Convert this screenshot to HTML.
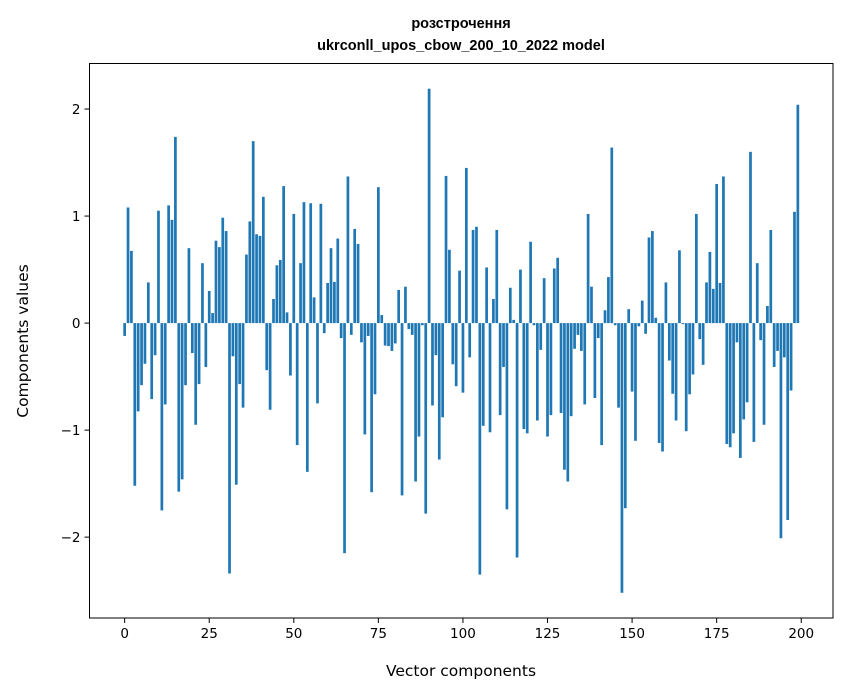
<!DOCTYPE html>
<html><head><meta charset="utf-8"><style>
html,body{margin:0;padding:0;background:#fff;}
svg{display:block;}
</style></head><body>
<svg id="chart" width="847" height="696" viewBox="0 0 847 696" xmlns="http://www.w3.org/2000/svg">
<rect x="0" y="0" width="847" height="696" fill="#fff"/>
<text x="461" y="28" text-anchor="middle" font-family="'Liberation Sans', Arial, sans-serif" font-weight="bold" font-size="14.5">розстрочення</text>
<text x="461" y="50" text-anchor="middle" font-family="'Liberation Sans', Arial, sans-serif" font-weight="bold" font-size="14.5">ukrconll_upos_cbow_200_10_2022 model</text>
<g id="bars"></g>
<g id="xticks"></g>
<g id="yticks"></g>
<rect x="89.5" y="63.5" width="743.5" height="554.5" fill="none" stroke="#000" stroke-width="1"/>
<text x="461" y="676" text-anchor="middle" font-family="'DejaVu Sans', sans-serif" font-size="15.5">Vector components</text>
<text transform="translate(28,341) rotate(-90)" text-anchor="middle" font-family="'DejaVu Sans', sans-serif" font-size="15.5">Components values</text>
</svg>
<script>
const values = [
-0.12,1.08,0.675,-1.52,-0.825,-0.58,-0.38,0.38,-0.71,-0.3,
1.05,-1.75,-0.76,1.1,0.965,1.74,-1.575,-1.46,-0.58,0.70,
-0.28,-0.95,-0.57,0.56,-0.41,0.30,0.094,0.77,0.71,0.985,
0.86,-2.34,-0.31,-1.51,-0.57,-0.79,0.64,0.95,1.70,0.83,
0.815,1.18,-0.44,-0.81,0.225,0.54,0.59,1.28,0.10,-0.49,
1.02,-1.14,0.56,1.13,-1.39,1.12,0.24,-0.75,1.115,-0.094,
0.375,0.70,0.385,0.79,-0.14,-2.15,1.37,-0.11,0.88,0.74,
-0.18,-1.04,-0.12,-1.58,-0.665,1.27,0.075,-0.21,-0.215,-0.26,
-0.19,0.31,-1.61,0.34,-0.056,-0.11,-1.48,-1.06,-0.02,-1.78,
2.19,-0.77,-0.30,-1.275,-0.88,1.375,0.685,-0.385,-0.59,0.49,
-0.65,1.45,-0.32,0.87,0.90,-2.35,-0.96,0.52,-1.02,0.225,
0.87,-0.86,-0.41,-1.74,0.33,0.03,-2.19,0.50,-0.99,-1.03,
0.76,-0.02,-0.91,-0.25,0.42,-1.06,-0.86,0.51,0.61,-0.84,
-1.37,-1.48,-0.87,-0.24,-0.11,-0.26,-0.76,1.02,0.34,-0.70,
-0.14,-1.14,0.12,0.43,1.64,-0.02,-0.79,-2.52,-1.73,0.13,
-0.64,-1.10,-0.03,0.21,-0.10,0.80,0.86,0.05,-1.12,-1.20,
0.38,-0.35,-0.66,-0.91,0.68,-0.01,-1.01,-0.665,-0.48,1.02,
-0.15,-0.39,0.38,0.665,0.32,1.30,0.375,1.37,-1.13,-1.16,
-1.03,-0.18,-1.26,-0.90,-0.74,1.60,-1.11,0.56,-0.16,-0.95,
0.16,0.87,-0.41,-0.26,-2.01,-0.32,-1.84,-0.63,1.04,2.04
];
const xTicks = [0,25,50,75,100,125,150,175,200];
const yTicks = [-2,-1,0,1,2];

const NS = "http://www.w3.org/2000/svg";
const L=89.5, R=833, T=63.5, B=618;
const n = values.length;
const xmin=-0.4-0.05*(n-0.2), xmax=(n-1)+0.4+0.05*(n-0.2);
const vmin=Math.min(0,...values), vmax=Math.max(0,...values);
const ymin=vmin-0.05*(vmax-vmin), ymax=vmax+0.05*(vmax-vmin);
const xs = v => L + (v-xmin)/(xmax-xmin)*(R-L);
const ys = v => B - (v-ymin)/(ymax-ymin)*(B-T);
function mk(tag, attrs){const e=document.createElementNS(NS,tag);for(const k in attrs)e.setAttribute(k,attrs[k]);return e;}

const bars=document.getElementById('bars');
values.forEach((v,i)=>{
  const x0=xs(i-0.4), x1=xs(i+0.4), y0=ys(Math.max(v,0)), y1=ys(Math.min(v,0));
  const r=mk('rect',{x:x0,y:y0,width:x1-x0,height:Math.max(y1-y0,0.5),fill:'#1f77b4'});
  
  
  bars.appendChild(r);
});
const xg=document.getElementById('xticks');
xTicks.forEach(t=>{
  const x=xs(t);
  const ln=mk('line',{x1:x,x2:x,y1:B,y2:B+5,stroke:'#000','stroke-width':1});
  
  
  xg.appendChild(ln);
  const tx=mk('text',{x:x,y:B+20,'text-anchor':'middle','font-family':"'DejaVu Sans', sans-serif",'font-size':'13.5'});
  tx.textContent=String(t);
  
  
  xg.appendChild(tx);
});
const yg=document.getElementById('yticks');
yTicks.forEach(t=>{
  const y=ys(t);
  const ln=mk('line',{x1:L-5,x2:L,y1:y,y2:y,stroke:'#000','stroke-width':1});
  
  
  yg.appendChild(ln);
  const tx=mk('text',{x:L-9,y:y+5,'text-anchor':'end','font-family':"'DejaVu Sans', sans-serif",'font-size':'13.5'});
  tx.textContent=(t<0?'\u2212':'')+Math.abs(t);
  
  
  yg.appendChild(tx);
});
</script>
</body></html>
